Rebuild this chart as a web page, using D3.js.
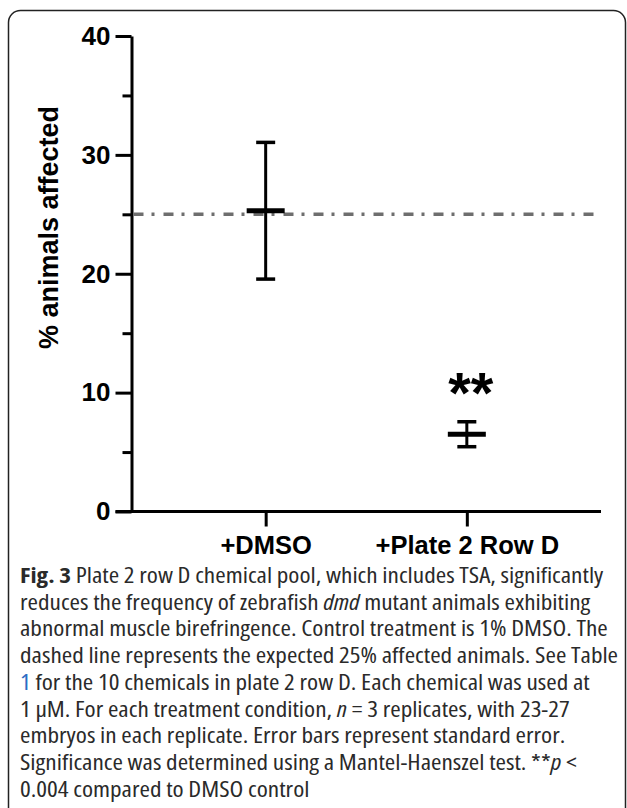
<!DOCTYPE html>
<html>
<head>
<meta charset="utf-8">
<script src="https://cdn.jsdelivr.net/npm/d3@7"></script>
<style>
  body { margin: 0; background: #fff; }
  #c { width: 627px; height: 808px; }
  .cap { font-family: "Open Sans", "Noto Sans", sans-serif; font-size: 22px; fill: #2a2a2a; font-stretch: condensed; }
</style>
</head>
<body>
<div id="c"></div>
<script>
"use strict";

// chart values
const categories = ["+DMSO", "+Plate 2 Row D"]
const means = [25.3, 6.5]
const stdErrors = [5.75, 1.05]
const stars = ["", "**"]
const expectedPct = 25
const yTicks = [0, 10, 20, 30, 40]
const yMinorTicks = [5, 15, 25, 35]
const yLabel = "% animals affected"

// caption lines, each a list of [text, style]
const captionLines = [
    [["Fig. 3", "b"], [" Plate 2 row D chemical pool, which includes TSA, significantly", ""]],
    [["reduces the frequency of zebrafish ", ""], ["dmd", "i"], [" mutant animals exhibiting", ""]],
    [["abnormal muscle birefringence. Control treatment is 1% DMSO. The", ""]],
    [["dashed line represents the expected 25% affected animals. See Table", ""]],
    [["1", "link"], [" for the 10 chemicals in plate 2 row D. Each chemical was used at", ""]],
    [["1 \u00b5M. For each treatment condition, ", ""], ["n", "i"], [" = 3 replicates, with 23-27", ""]],
    [["embryos in each replicate. Error bars represent standard error.", ""]],
    [["Significance was determined using a Mantel-Haenszel test. **", ""], ["p", "i"], [" <", ""]],
    [["0.004 compared to DMSO control", ""]]
]

let svg, xScale, yScale

window.onload = function() {
    svg = d3.select('#c').append('svg')
        .attr('width', 627).attr('height', 808)

    // figure frame
    svg.append('rect')
        .attr('x', 8.5).attr('y', 10.5)
        .attr('width', 617).attr('height', 812)
        .attr('rx', 12)
        .attr('fill', 'none')
        .attr('stroke', '#222')
        .attr('stroke-width', 1.5)

    drawChart()
    drawCaption()
}

function drawChart() {
    const left = 131.5, right = 601, top = 36, bottom = 511.5

    yScale = d3.scaleLinear().domain([0, 40]).range([bottom, top])
    xScale = d3.scalePoint().domain(categories).range([left, right]).padding(0.667)

    // minor ticks
    svg.append('g')
        .attr('transform', 'translate(' + left + ',0)')
        .call(d3.axisLeft(yScale).tickValues(yMinorTicks).tickSize(9).tickFormat(''))
        .call(g => g.select('.domain').remove())
        .selectAll('line').attr('stroke', '#000').attr('stroke-width', 3)

    let yAxis = svg.append('g')
        .attr('transform', 'translate(' + left + ',0)')
        .call(d3.axisLeft(yScale).tickValues(yTicks).tickSize(16).tickSizeOuter(0).tickPadding(5))
    yAxis.selectAll('line, path').attr('stroke', '#000').attr('stroke-width', 3)
    yAxis.selectAll('text')
        .attr('font-family', 'Liberation Sans, Arial, sans-serif')
        .attr('font-weight', 'bold')
        .attr('font-size', 26)
        .attr('fill', '#000')

    let xAxis = svg.append('g')
        .attr('transform', 'translate(0,' + bottom + ')')
        .call(d3.axisBottom(xScale).tickSize(15).tickSizeOuter(0).tickPadding(9))
    xAxis.select('.domain').attr('d', 'M' + (left - 16) + ',0H' + right)
    xAxis.selectAll('line, path').attr('stroke', '#000').attr('stroke-width', 3)
    xAxis.selectAll('text')
        .attr('font-family', 'Liberation Sans, Arial, sans-serif')
        .attr('font-weight', 'bold')
        .attr('font-size', 25.5)
        .attr('fill', '#000')

    svg.append('text')
        .attr('transform', 'translate(58,' + 227.5 + ') rotate(-90)')
        .attr('text-anchor', 'middle')
        .attr('font-family', 'Liberation Sans, Arial, sans-serif')
        .attr('font-weight', 'bold')
        .attr('font-size', 27)
        .text(yLabel)

    // expected 25% line
    svg.append('line')
        .attr('x1', left + 2).attr('x2', 598)
        .attr('y1', yScale(expectedPct)).attr('y2', yScale(expectedPct))
        .attr('stroke', '#6e6e6e')
        .attr('stroke-width', 3.5)
        .attr('stroke-dasharray', '10,8,3,9')

    let groups = svg.selectAll('.bar')
        .data(categories.map((c, i) => ({cat: c, mean: means[i], se: stdErrors[i], star: stars[i]})))
        .enter().append('g')
        .attr('transform', d => 'translate(' + xScale(d.cat) + ',0)')

    groups.append('line')
        .attr('x1', 0).attr('x2', 0)
        .attr('y1', d => yScale(d.mean + d.se))
        .attr('y2', d => yScale(d.mean - d.se))
        .attr('stroke', '#000').attr('stroke-width', 3)
    groups.selectAll('.cap')
        .data(d => [d.mean + d.se, d.mean - d.se])
        .enter().append('line')
        .attr('x1', -9.5).attr('x2', 9.5)
        .attr('y1', v => yScale(v)).attr('y2', v => yScale(v))
        .attr('stroke', '#000').attr('stroke-width', 3.5)
    groups.append('line')
        .attr('x1', -19).attr('x2', 19)
        .attr('y1', d => yScale(d.mean)).attr('y2', d => yScale(d.mean))
        .attr('stroke', '#000').attr('stroke-width', 5)
    groups.append('text')
        .attr('x', 4)
        .attr('y', d => yScale(d.mean + d.se) - 9)
        .attr('text-anchor', 'middle')
        .attr('font-family', 'Liberation Sans, Arial, sans-serif')
        .attr('font-weight', 'bold')
        .attr('font-size', 58)
        .text(d => d.star)
}

function drawCaption() {
    // the condensed face is a bit too narrow, widen it slightly
    let cap = svg.append('g').attr('transform', 'translate(20,0) scale(1.148,1)')
    captionLines.forEach((line, i) => {
        let t = cap.append('text')
            .attr('class', 'cap')
            .attr('x', 0)
            .attr('y', 583 + i * 26.75)
        line.forEach(part => {
            let s = t.append('tspan').text(part[0])
            if (part[1] == 'b') s.attr('font-weight', 'bold')
            if (part[1] == 'i') s.attr('font-style', 'italic')
            if (part[1] == 'link') s.attr('fill', '#2b6cc4')
        })
    })
}
</script>
</body>
</html>
